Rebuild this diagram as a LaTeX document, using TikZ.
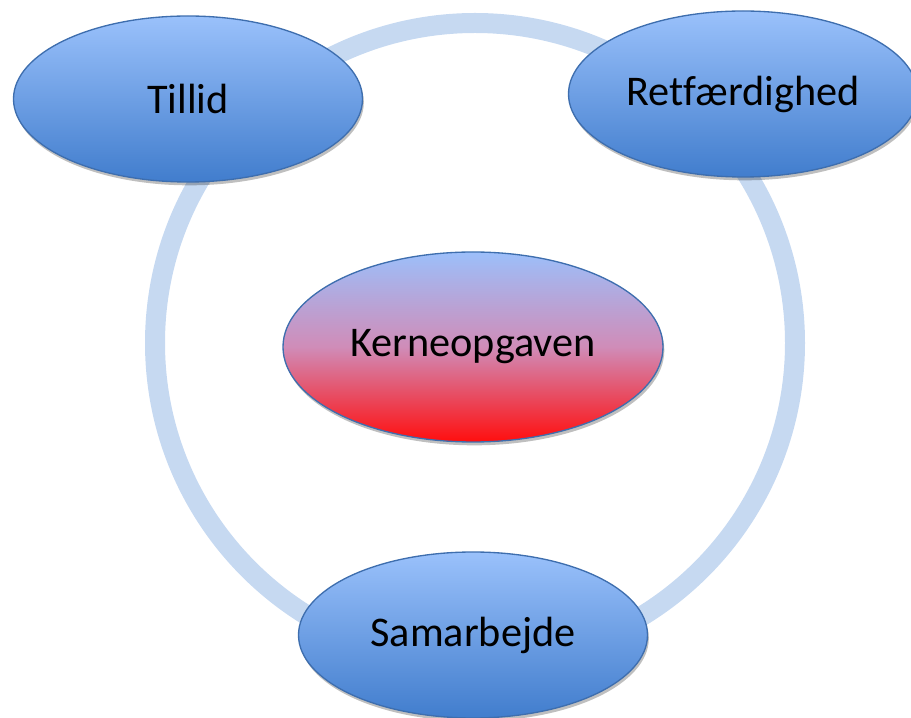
\documentclass[tikz,border=0pt]{standalone}
\usepackage{fontspec}
\setmainfont[Ligatures=NoCommon]{Carlito}
\usepackage{xcolor}
\usetikzlibrary{shapes.geometric,shadows}

\definecolor{ringblue}{HTML}{C6D9F1}
\definecolor{bluetop}{HTML}{9AC1FB}
\definecolor{bluebot}{HTML}{417DCD}
\definecolor{blueline}{HTML}{3E6EAE}
\definecolor{coretop}{HTML}{9CBFFA}
\definecolor{coremid}{HTML}{D08CB8}
\definecolor{corebot}{HTML}{FF0E0E}

\begin{document}
\begin{tikzpicture}[
  x=0.75pt, y=0.75pt,
  font=\fontsize{31.7}{36}\selectfont,
  value/.style={ellipse, draw=blueline, line width=1pt, inner sep=0pt,
    minimum width=261.75pt, minimum height=124.5pt, top color=bluetop, bottom color=bluebot,
    drop shadow={shadow xshift=1pt, shadow yshift=-2.5pt, opacity=.25, fill=black}},
  core/.style={value, minimum width=285pt, minimum height=142.5pt,
    top color=coretop, bottom color=corebot, middle color=coremid},
  ring/.style={draw=ringblue, line width=15pt}
]
\useasboundingbox (0,0) rectangle (911,718);
\coordinate (mid) at (475,375);
\draw[ring] (mid) circle (320);
\node[core] (kerne) at (473,371) {Kerneopgaven};
\node[value] (tillid) at (188,619) {Tillid};
\node[value] (ret) at (743,624) {Retfærdighed};
\node[value] (sam) at (473,83) {Samarbejde};
\end{tikzpicture}
\end{document}
